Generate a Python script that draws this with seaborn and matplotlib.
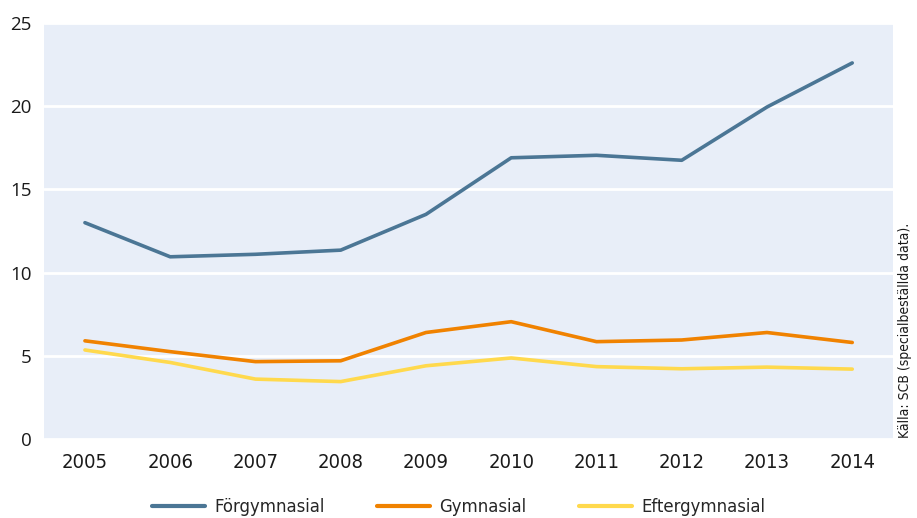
import matplotlib
matplotlib.use("Agg")
import matplotlib.pyplot as plt
import pandas as pd
import seaborn as sns

# Data (andel i procent)
years = [2005, 2006, 2007, 2008, 2009, 2010, 2011, 2012, 2013, 2014]
forgymnasial = [13.0, 10.95, 11.1, 11.35, 13.5, 16.9, 17.05, 16.75, 19.95, 22.6]
gymnasial = [5.9, 5.25, 4.65, 4.7, 6.4, 7.05, 5.85, 5.95, 6.4, 5.8]
eftergymnasial = [5.35, 4.6, 3.6, 3.45, 4.4, 4.87, 4.35, 4.22, 4.32, 4.2]

series_names = ["Förgymnasial", "Gymnasial", "Eftergymnasial"]
colors = ["#4b7695", "#f08200", "#ffd94d"]

df = pd.DataFrame({
    "År": years * 3,
    "Andel": forgymnasial + gymnasial + eftergymnasial,
    "Grupp": [n for n in series_names for _ in years],
})

sns.set_theme(style="white")
plt.rcParams["font.family"] = ["Open Sans", "DejaVu Sans"]

fig = plt.figure(figsize=(9.17, 5.18), dpi=100)
ax = fig.add_axes([0.048, 0.1525, 0.926, 0.8031])
ax.set_facecolor("#e8eef8")

sns.lineplot(data=df, x="År", y="Andel", hue="Grupp", hue_order=series_names,
             palette=colors, linewidth=2.6, ax=ax, legend=False)

ax.set_xlim(2004.52, 2014.48)
ax.set_ylim(0, 25)
ax.set_xticks(years)
ax.set_xticklabels([str(y) for y in years], family="DejaVu Sans", stretch="condensed",
                   fontsize=14.5, color="#1a1a1a")
ax.set_yticks([0, 5, 10, 15, 20, 25])
ax.set_yticklabels(["0", "5", "10", "15", "20", "25"], fontsize=13.5, color="#1a1a1a")
ax.tick_params(axis="x", length=0, pad=10)
ax.tick_params(axis="y", length=0, pad=9)
ax.set_xlabel("")
ax.set_ylabel("")
for s in ax.spines.values():
    s.set_visible(False)
ax.grid(axis="y", color="white", linewidth=2)
ax.set_axisbelow(True)

handles = [plt.Line2D([], [], color=c, linewidth=3) for c in colors]
fig.legend(handles, series_names, loc="center", bbox_to_anchor=(0.5, 0.021),
           ncol=3, frameon=False, handlelength=2.9, handletextpad=0.5,
           columnspacing=2.85,
           prop={"family": "DejaVu Sans", "stretch": "condensed", "size": 13.2})

fig.text(0.987, 0.155, "Källa: SCB (specialbeställda data).", rotation=90,
         ha="center", va="bottom", fontsize=10, family="DejaVu Sans",
         stretch="condensed", color="#1a1a1a")

fig.savefig("out.png", dpi=100)
